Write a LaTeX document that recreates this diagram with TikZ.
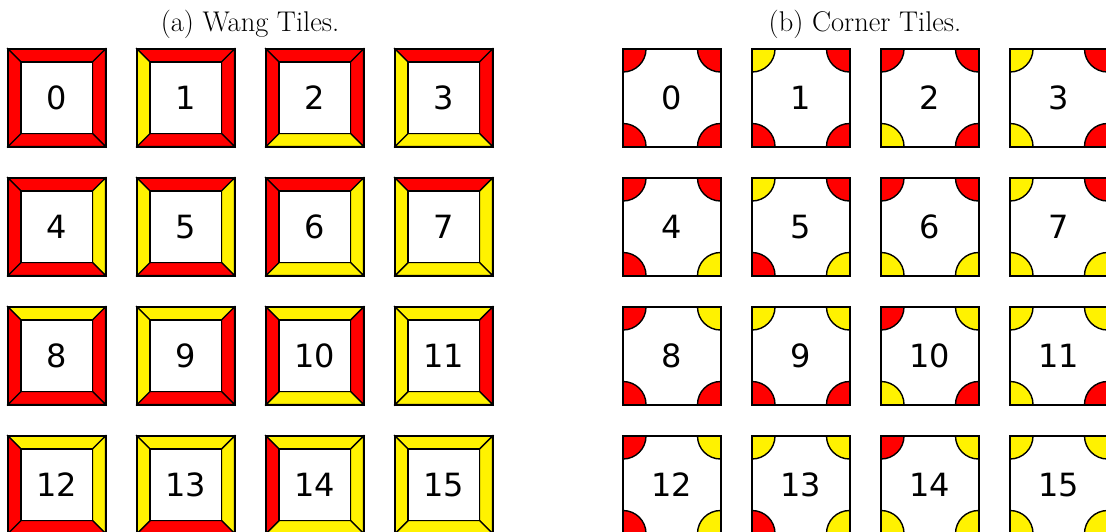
\documentclass[tikz,border=0pt]{standalone}
\usepackage{fontspec}
\newfontfamily\digitfont{DejaVu Sans}
\begin{document}
\begin{tikzpicture}[x=1pt,y=-1pt,
  edgeline/.style={draw=black,line width=1.4pt,line join=miter},
  tileborder/.style={draw=black,line width=2pt},
  numlabel/.style={font=\digitfont\fontsize{32}{38}\selectfont,text=black,inner sep=0pt},
  titlelabel/.style={font=\fontsize{28.5}{34}\selectfont,text=black,inner sep=0pt,anchor=base}]
\useasboundingbox (0,0) rectangle (1106,531);
\def\s{97.5}
\def\d{13}
\def\r{23}
% titles
\node[titlelabel] (ta) at (250,31.5) {(a) Wang Tiles.};
\node[titlelabel] (tb) at (865,31.5) {(b) Corner Tiles.};
% Wang tiles
\foreach \n in {0,...,15}{
  \pgfmathtruncatemacro\col{mod(\n,4)}
  \pgfmathtruncatemacro\row{int(\n/4)}
  \pgfmathsetmacro\x{8+129*\col}
  \pgfmathsetmacro\y{49+129*\row}
  \pgfmathtruncatemacro\bw{mod(\n,2)}
  \pgfmathtruncatemacro\bs{mod(int(\n/2),2)}
  \pgfmathtruncatemacro\be{mod(int(\n/4),2)}
  \pgfmathtruncatemacro\bn{mod(int(\n/8),2)}
  \ifnum\bw=1 \def\cw{yellow}\else\def\cw{red}\fi
  \ifnum\bs=1 \def\cs{yellow}\else\def\cs{red}\fi
  \ifnum\be=1 \def\ce{yellow}\else\def\ce{red}\fi
  \ifnum\bn=1 \def\cn{yellow}\else\def\cn{red}\fi
  \coordinate (otl) at (\x,\y);
  \coordinate (otr) at (\x+\s,\y);
  \coordinate (obr) at (\x+\s,\y+\s);
  \coordinate (obl) at (\x,\y+\s);
  \coordinate (itl) at (\x+\d,\y+\d);
  \coordinate (itr) at (\x+\s-\d,\y+\d);
  \coordinate (ibr) at (\x+\s-\d,\y+\s-\d);
  \coordinate (ibl) at (\x+\d,\y+\s-\d);
  \filldraw[edgeline,fill=\cn] (otl) -- (otr) -- (itr) -- (itl) -- cycle;
  \filldraw[edgeline,fill=\ce] (otr) -- (obr) -- (ibr) -- (itr) -- cycle;
  \filldraw[edgeline,fill=\cs] (obr) -- (obl) -- (ibl) -- (ibr) -- cycle;
  \filldraw[edgeline,fill=\cw] (obl) -- (otl) -- (itl) -- (ibl) -- cycle;
  \filldraw[edgeline,fill=white] (itl) rectangle (ibr);
  \draw[tileborder] (otl) rectangle (obr);
  \node[numlabel] (w\n) at (\x+\s/2,\y+\s/2) {\n};
}
% Corner tiles
\foreach \n in {0,...,15}{
  \pgfmathtruncatemacro\col{mod(\n,4)}
  \pgfmathtruncatemacro\row{int(\n/4)}
  \pgfmathsetmacro\x{623+129*\col}
  \pgfmathsetmacro\y{49+129*\row}
  \pgfmathtruncatemacro\bnw{mod(\n,2)}
  \pgfmathtruncatemacro\bsw{mod(int(\n/2),2)}
  \pgfmathtruncatemacro\bse{mod(int(\n/4),2)}
  \pgfmathtruncatemacro\bne{mod(int(\n/8),2)}
  \ifnum\bnw=1 \def\cnw{yellow}\else\def\cnw{red}\fi
  \ifnum\bsw=1 \def\csw{yellow}\else\def\csw{red}\fi
  \ifnum\bse=1 \def\cse{yellow}\else\def\cse{red}\fi
  \ifnum\bne=1 \def\cne{yellow}\else\def\cne{red}\fi
  \coordinate (otl) at (\x,\y);
  \coordinate (otr) at (\x+\s,\y);
  \coordinate (obr) at (\x+\s,\y+\s);
  \coordinate (obl) at (\x,\y+\s);
  \fill[white] (otl) rectangle (obr);
  \begin{scope}
    \clip (otl) rectangle (obr);
    \filldraw[edgeline,fill=\cnw] (otl) circle (\r);
    \filldraw[edgeline,fill=\cne] (otr) circle (\r);
    \filldraw[edgeline,fill=\cse] (obr) circle (\r);
    \filldraw[edgeline,fill=\csw] (obl) circle (\r);
  \end{scope}
  \draw[tileborder] (otl) rectangle (obr);
  \node[numlabel] (c\n) at (\x+\s/2,\y+\s/2) {\n};
}
\end{tikzpicture}
\end{document}
